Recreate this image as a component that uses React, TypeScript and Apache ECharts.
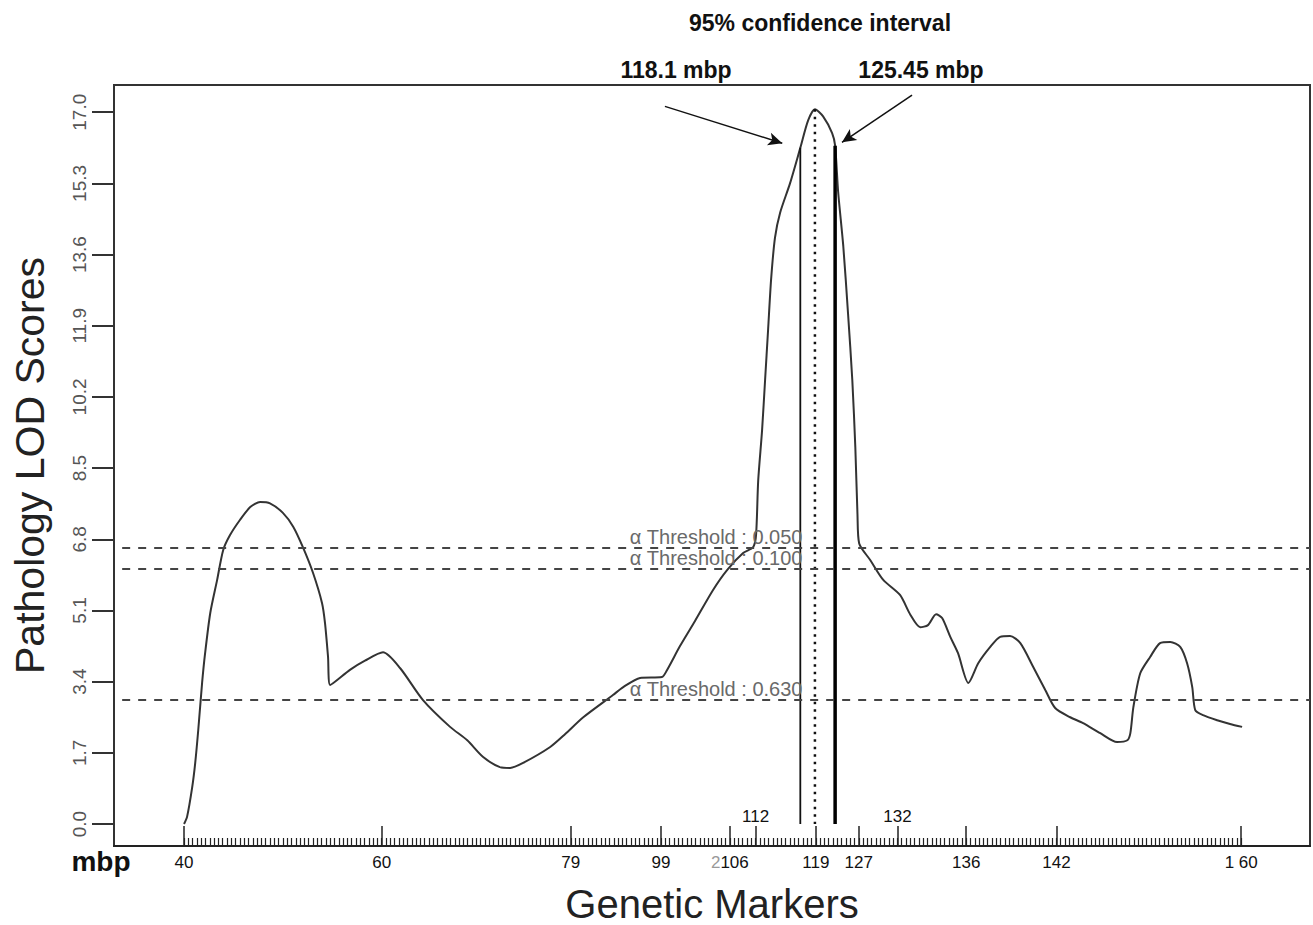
import React, { useEffect, useRef } from "react";
import * as echarts from "echarts";

// ---- data (x = genetic marker index along the chromosome, y = LOD score) ----
const markerIdx = [
  0, 0.7, 1.9, 2.6, 3.3, 4.2, 4.9, 6.1, 7.7, 9.1, 10.7, 13.0, 15.4, 17.7, 20.0, 23.0, 25.4, 27.7, 30.0, 32.1, 32.8, 33.5, 34.0,
  38.6, 42.1, 46.3, 50.3, 55.6, 61.9, 65.9, 69.6, 73.5, 75.9, 78.9, 85.2, 88.7, 92.9, 99.8, 102.2, 106.1, 111.2, 112.4,
  115.4, 118.9, 123.1, 126.4, 130.1, 132.4, 133.1, 133.6, 134.5, 135.2, 135.9, 136.6, 137.5, 138.7, 141.0, 143.4, 145.2,
  146.8, 148.7, 150.8, 151.5, 152.2, 153.4, 154.5, 155.5, 156.2, 156.7, 157.1, 159.7, 162.7, 166.6, 169.0, 171.3, 173.1,
  175.0, 176.4, 178.3, 180.1, 182.5, 184.8, 187.6, 189.9, 192.2, 194.6, 197.6, 200.4, 202.7, 206.2, 209.2, 213.2, 217.1,
  219.5, 220.2, 220.9, 222.5, 224.8, 227.1, 229.5, 231.8, 233.4, 234.6, 235.3, 237.1, 240.4, 243.4, 246.2,
];
const lodScores = [
  0.0, 0.17, 0.88, 1.46, 2.24, 3.37, 4.08, 5.04, 5.83, 6.54, 6.9, 7.26, 7.57, 7.69, 7.66, 7.43, 7.1, 6.6, 6.0, 5.28, 4.8, 4.0, 3.32,
  3.68, 3.9, 4.1, 3.72, 2.96, 2.32, 2.0, 1.6, 1.36, 1.34, 1.46, 1.84, 2.15, 2.55, 3.08, 3.27, 3.49, 3.51, 3.68,
  4.25, 4.85, 5.59, 6.07, 6.47, 6.61, 6.9, 8.2, 9.4, 10.6, 11.8, 13.0, 14.0, 14.6, 15.3, 16.15, 16.8,
  17.07, 16.9, 16.5, 16.2, 15.1, 13.8, 12.2, 10.6, 9.0, 7.4, 6.7, 6.3, 5.83, 5.47, 5.0, 4.7, 4.75,
  5.01, 4.92, 4.47, 4.08, 3.37, 3.84, 4.23, 4.47, 4.49, 4.32, 3.75, 3.2, 2.77, 2.55, 2.41, 2.17, 1.96,
  2.0, 2.17, 2.79, 3.6, 3.99, 4.32, 4.35, 4.23, 3.84, 3.27, 2.72, 2.6, 2.48, 2.39, 2.32,
];

// thresholds
const thresholdAlpha = ["0.050", "0.100", "0.630"];
const thresholdLod = [6.59, 6.09, 2.96];

// confidence interval (marker index) and top-of-line LOD
const ciLowerIdx = 143.4;
const ciLowerLod = 16.15;
const peakIdx = 146.8;
const peakLod = 17.07;
const ciUpperIdx = 151.5;
const ciUpperLod = 16.2;

// arrows [startIdx, startLod, endIdx, endLod]
const arrowLeft = [111.9, 17.14, 139.2, 16.26];
const arrowRight = [169.4, 17.41, 153.1, 16.28];

// axes
const yTicks = [0.0, 1.7, 3.4, 5.1, 6.8, 8.5, 10.2, 11.9, 13.6, 15.3, 17.0];
const bottomLabelIdx = [0, 46, 90, 111, 127, 147, 157, 182, 203, 246];
const bottomLabels = ["40", "60", "79", "99", "2106", "119", "127", "136", "142", "1 60"];
const topLabelIdx = [133, 166];
const topLabels = ["112", "132"];
const majorTickIdx = [0, 46, 90, 111, 127, 133, 147, 157, 166, 182, 203, 246];
const markerCount = 247;

const FONT = '"Liberation Sans", Arial, Helvetica, sans-serif';

export default function App() {
  const ref = useRef<HTMLDivElement>(null);

  useEffect(() => {
    if (!ref.current) return;
    const chart = echarts.init(ref.current, null, { renderer: "svg" });
    const xMin = -16.3;
    const xMax = 262;
    const minorTicks = Array.from({ length: markerCount }, (_, i) => i);
    const lineData = markerIdx.map((x, i) => [x, lodScores[i]]);

    const thresholdLines = thresholdLod.map((y, i) => [
      {
        coord: [-14.4, y],
        label: {
          show: true,
          position: "insideMiddleTop",
          distance: 1,
          formatter: "α Threshold : " + thresholdAlpha[i],
          color: "#6a6a6a",
          fontSize: 20,
          fontFamily: FONT,
        },
      },
      { coord: [xMax, y] },
    ]);

    const textStyle = (text: string, size: number) => ({
      text,
      font: `bold ${size}px ${FONT}`,
      fill: "#111",
      align: "center",
      verticalAlign: "middle",
      textAlign: "center",
      textVerticalAlign: "middle",
    });

    const option: any = {
      animation: false,
      backgroundColor: "#fff",
      grid: {
        left: 114,
        top: 85,
        right: 3,
        bottom: 79,
        show: true,
        borderColor: "#333",
        borderWidth: 2,
        backgroundColor: "transparent",
        containLabel: false,
        outerBoundsMode: "none",
      },
      xAxis: [
        {
          type: "value",
          min: xMin,
          max: xMax,
          position: "bottom",
          axisLine: { show: true, onZero: false, lineStyle: { color: "#222", width: 2 } },
          axisTick: {
            show: true,
            inside: true,
            length: 8,
            customValues: minorTicks,
            lineStyle: { color: "#222", width: 1.2 },
          },
          axisLabel: {
            customValues: bottomLabelIdx,
            formatter: (v: number) => {
              const i = bottomLabelIdx.indexOf(Math.round(v));
              const s = i >= 0 ? bottomLabels[i] : "";
              if (s === "2106") return "{g|2}{n|106}";
              return s;
            },
            margin: 8,
            fontSize: 17,
            color: "#111",
            fontFamily: FONT,
            rich: {
              g: { color: "#999", fontSize: 17, fontFamily: FONT },
              n: { color: "#111", fontSize: 17, fontFamily: FONT },
            },
          },
          splitLine: { show: false },
          name: "Genetic Markers",
          nameLocation: "middle",
          nameGap: 38,
          nameTextStyle: { fontSize: 40, lineHeight: 40, color: "#222", fontFamily: FONT, verticalAlign: "top" },
        },
        {
          type: "value",
          min: xMin,
          max: xMax,
          position: "bottom",
          axisLine: { show: false, onZero: false },
          axisTick: {
            show: true,
            inside: true,
            length: 20,
            customValues: majorTickIdx,
            lineStyle: { color: "#222", width: 1.5 },
          },
          axisLabel: {
            inside: true,
            customValues: topLabelIdx,
            formatter: (v: number) => {
              const i = topLabelIdx.indexOf(Math.round(v));
              return i >= 0 ? topLabels[i] : "";
            },
            margin: 21,
            fontSize: 17,
            color: "#111",
            fontFamily: FONT,
          },
          splitLine: { show: false },
        },
      ],
      yAxis: {
        type: "value",
        min: -0.525,
        max: 17.65,
        axisLine: { show: true, onZero: false, lineStyle: { color: "#333", width: 2 } },
        axisTick: {
          show: true,
          inside: false,
          length: 22,
          customValues: yTicks,
          lineStyle: { color: "#333", width: 2 },
        },
        axisLabel: {
          customValues: yTicks,
          rotate: 90,
          formatter: (v: number) => v.toFixed(1),
          margin: 25,
          fontSize: 19,
          color: "#555",
          fontFamily: FONT,
        },
        splitLine: { show: false },
        name: "Pathology LOD Scores",
        nameLocation: "middle",
        nameGap: 64,
        nameTextStyle: { fontSize: 41, color: "#222", fontFamily: FONT },
      },
      series: [
        {
          type: "line",
          data: lineData,
          symbol: "none",
          smooth: 0.25,
          lineStyle: { color: "#333", width: 2 },
          markLine: {
            silent: true,
            symbol: "none",
            animation: false,
            lineStyle: { color: "#444", width: 2, type: [8, 8] },
            data: thresholdLines,
          },
          z: 3,
        },
        {
          type: "line",
          data: [
            [ciLowerIdx, ciLowerLod],
            [ciLowerIdx, 0],
          ],
          symbol: "none",
          lineStyle: { color: "#111", width: 1.8 },
          markLine: {
            silent: true,
            symbol: ["none", "arrow"],
            symbolSize: [10, 14],
            animation: false,
            lineStyle: { color: "#111", width: 1.5, type: "solid" },
            label: { show: false },
            data: [
              [{ coord: [arrowLeft[0], arrowLeft[1]] }, { coord: [arrowLeft[2], arrowLeft[3]] }],
              [{ coord: [arrowRight[0], arrowRight[1]] }, { coord: [arrowRight[2], arrowRight[3]] }],
            ],
          },
        },
        {
          type: "line",
          data: [
            [peakIdx, peakLod],
            [peakIdx, 0],
          ],
          symbol: "none",
          lineStyle: { color: "#111", width: 2.5, type: [2.5, 5] },
        },
        {
          type: "line",
          data: [
            [ciUpperIdx, ciUpperLod],
            [ciUpperIdx, 0],
          ],
          symbol: "none",
          lineStyle: { color: "#000", width: 3.5 },
        },
      ],
      graphic: [
        { type: "text", x: 820, y: 23, style: textStyle("95% confidence interval", 23) },
        { type: "text", x: 676, y: 70, style: textStyle("118.1 mbp", 23) },
        { type: "text", x: 921, y: 70, style: textStyle("125.45 mbp", 23) },
        { type: "text", x: 101, y: 861, style: textStyle("mbp", 28) },
      ],
    };

    chart.setOption(option);
    return () => chart.dispose();
  }, []);

  return (
    <div
      ref={ref}
      style={{ position: "fixed", left: 0, top: 0, width: 1313, height: 925, background: "#fff" }}
    />
  );
}
